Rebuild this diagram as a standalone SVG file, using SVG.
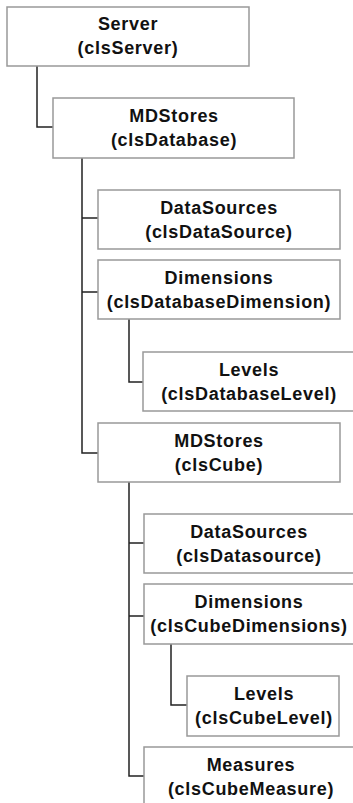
<svg xmlns="http://www.w3.org/2000/svg" width="353" height="803" viewBox="0 0 353 803">
<style>
.box{fill:#fff;stroke:#999;stroke-width:1.5}
.t{font-family:"Liberation Sans",Arial,sans-serif;font-size:18px;font-weight:bold;fill:#111;text-anchor:middle;letter-spacing:0.7px}
.c{fill:none;stroke:#222;stroke-width:1.5}
</style>
<rect width="353" height="803" fill="#fff"/>
<g id="connectors">
<path class="c" d="M37 66V127H53"/>
<path class="c" d="M82 158V453H98M82 218H98M82 292H98"/>
<path class="c" d="M129 319V382H143"/>
<path class="c" d="M129 482V776H144M129 543H144M129 616H144"/>
<path class="c" d="M171 644V705H187"/>
</g>
<g id="server"><rect class="box" x="7" y="7" width="242" height="59"/><text class="t" x="128" y="30">Server</text><text class="t" x="128" y="54">(clsServer)</text></g>
<g id="mdstores-db"><rect class="box" x="53" y="98" width="241" height="60"/><text class="t" x="174" y="122">MDStores</text><text class="t" x="174" y="146">(clsDatabase)</text></g>
<g id="datasources-db"><rect class="box" x="98" y="190" width="242" height="59"/><text class="t" x="219" y="214">DataSources</text><text class="t" x="219" y="238">(clsDataSource)</text></g>
<g id="dimensions-db"><rect class="box" x="98" y="260" width="242" height="59"/><text class="t" x="219" y="284">Dimensions</text><text class="t" x="219" y="308">(clsDatabaseDimension)</text></g>
<g id="levels-db"><rect class="box" x="143" y="352" width="213" height="59"/><text class="t" x="249" y="376">Levels</text><text class="t" x="249" y="400">(clsDatabaseLevel)</text></g>
<g id="mdstores-cube"><rect class="box" x="98" y="423" width="242" height="59"/><text class="t" x="219" y="447">MDStores</text><text class="t" x="219" y="471">(clsCube)</text></g>
<g id="datasources-cube"><rect class="box" x="144" y="514" width="212" height="59"/><text class="t" x="249" y="538">DataSources</text><text class="t" x="249" y="562">(clsDatasource)</text></g>
<g id="dimensions-cube"><rect class="box" x="144" y="584" width="212" height="60"/><text class="t" x="249" y="608">Dimensions</text><text class="t" x="249" y="632">(clsCubeDimensions)</text></g>
<g id="levels-cube"><rect class="box" x="187" y="676" width="152" height="60"/><text class="t" x="264" y="700">Levels</text><text class="t" x="264" y="724">(clsCubeLevel)</text></g>
<g id="measures"><rect class="box" x="144" y="747" width="212" height="70"/><text class="t" x="251" y="771">Measures</text><text class="t" x="251" y="795">(clsCubeMeasure)</text></g>
</svg>
